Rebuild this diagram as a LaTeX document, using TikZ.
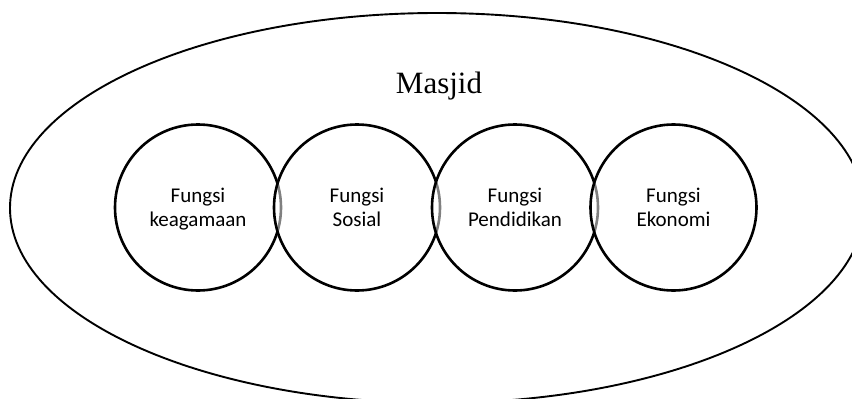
\documentclass[tikz,border=0pt]{standalone}
\usepackage{fontspec}
\setmainfont{Liberation Serif}
\newfontfamily\calfont{Carlito}
\begin{document}
\begin{tikzpicture}[x=1pt,y=-1pt,
  funcircle/.style={draw=black, line width=2.6pt, circle, minimum size=166pt, inner sep=0pt,
    fill=white, fill opacity=0.5, text opacity=1, align=center, text depth=0pt,
    font=\calfont\fontsize{21}{24}\selectfont},
  titletext/.style={font=\fontsize{31}{36}\selectfont, anchor=base, inner sep=0pt}]
\useasboundingbox (0,0) rectangle (852,399);
\fill[white] (0,0) rectangle (852,399);
\clip (0,0) rectangle (852,399);
\draw[line width=1.9pt] (437,208) ellipse [x radius=427, y radius=195];
\node[titletext] (title) at (439,93) {Masjid};
\node[funcircle] (c1) at (198,207.5) {Fungsi\\keagamaan};
\node[funcircle] (c2) at (357,207.5) {Fungsi\\Sosial};
\node[funcircle] (c3) at (515,207.5) {Fungsi\\Pendidikan};
\node[funcircle] (c4) at (673.5,207.5) {Fungsi\\Ekonomi};
\end{tikzpicture}
\end{document}
